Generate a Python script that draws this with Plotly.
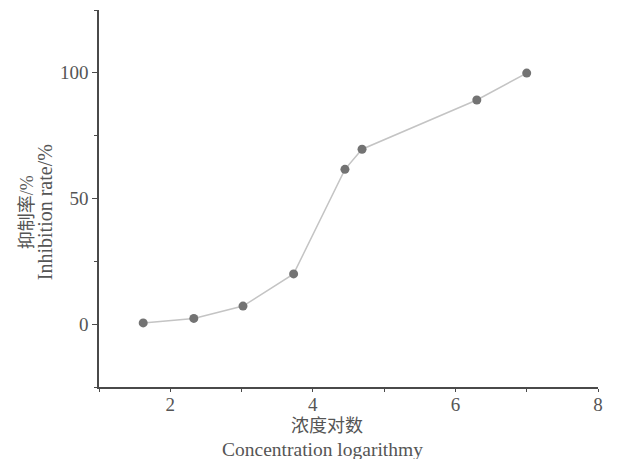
import plotly.graph_objects as go

conc_log = [1.62, 2.33, 3.02, 3.73, 4.45, 4.69, 6.30, 7.00]
inhibition = [0.5, 2.3, 7.2, 20.0, 61.6, 69.6, 89.2, 99.9]

x_title_cn = "浓度对数"
x_title_en = "Concentration logarithmy"
y_title_cn = "抑制率/%"
y_title_en = "Inhibition rate/%"

serif = "Liberation Serif, Times New Roman, serif"
cjk = "Liberation Serif, Noto Sans CJK SC, serif"

fig = go.Figure()
fig.add_trace(go.Scatter(
    x=conc_log, y=inhibition, mode="lines+markers",
    line=dict(color="#c4c4c4", width=1.5),
    marker=dict(color="#737373", size=9),
    showlegend=False,
))

axis_common = dict(
    showline=True, linecolor="#4a4a4a", linewidth=1.5,
    showgrid=False, zeroline=False,
    ticks="outside", tickcolor="#4a4a4a", tickwidth=1,
    tickfont=dict(family=serif, size=19, color="#555555"),
)

fig.update_xaxes(range=[1, 8], tick0=0, dtick=2, ticklen=3, ticklabelstandoff=-4,
                 minor=dict(dtick=1, ticks="outside", ticklen=3, tickcolor="#4a4a4a"),
                 **axis_common)
fig.update_yaxes(range=[-25, 125], tick0=0, dtick=50, ticklen=5,
                 minor=dict(dtick=25, ticks="outside", ticklen=3, tickcolor="#4a4a4a"),
                 **axis_common)

fig.add_annotation(text=x_title_cn, xref="paper", yref="paper", x=0.457, y=-0.103,
                   showarrow=False, yanchor="middle", xanchor="center",
                   font=dict(family=cjk, size=18, color="#555555"))
fig.add_annotation(text=x_title_en, xref="paper", yref="paper", x=0.447, y=-0.165,
                   showarrow=False, yanchor="middle", xanchor="center",
                   font=dict(family=serif, size=19.5, color="#555555"))
fig.add_annotation(text=y_title_cn, xref="paper", yref="paper", x=-0.144, y=0.464,
                   showarrow=False, textangle=-90, xanchor="center", yanchor="middle",
                   font=dict(family=cjk, size=18, color="#555555"))
fig.add_annotation(text=y_title_en, xref="paper", yref="paper", x=-0.108, y=0.464,
                   showarrow=False, textangle=-90, xanchor="center", yanchor="middle",
                   font=dict(family=serif, size=20, color="#555555"))

fig.update_layout(
    width=613, height=451,
    margin=dict(l=91, r=23, t=2, b=72),
    plot_bgcolor="white", paper_bgcolor="white",
)

fig.write_html("out.html")
